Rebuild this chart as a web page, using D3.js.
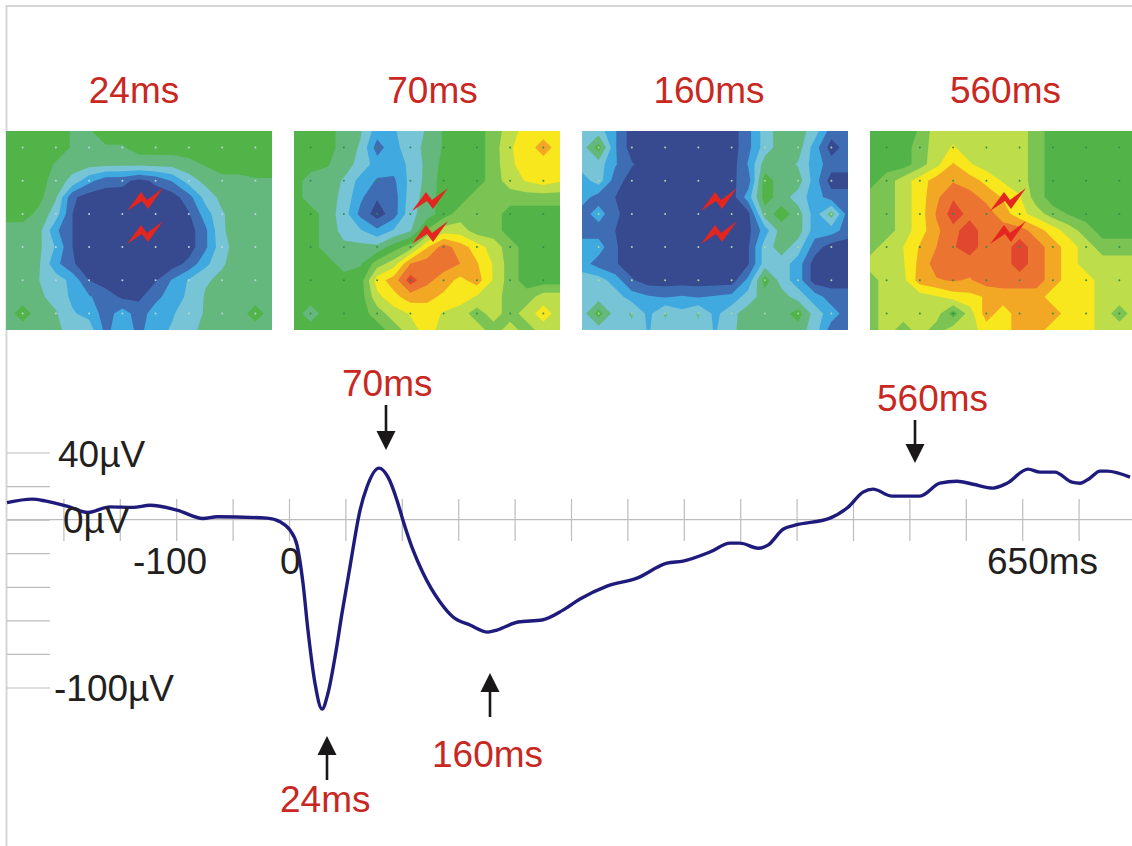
<!DOCTYPE html>
<html><head><meta charset="utf-8">
<script src="https://cdn.jsdelivr.net/npm/d3@7"></script>
<style>html,body{margin:0;padding:0;background:#fff;overflow:hidden}svg{display:block}text{font-family:"Liberation Sans",Arial,sans-serif}</style>
</head><body><svg id="c" width="1132" height="846"></svg>
<script>
// ERP trace, time in ms, amplitude in microvolts
const timeMs = [-250,-227.8,-216.3,-196.8,-178.2,-158.7,-138.3,-123.2,-99.3,-76.2,-63.8,-19.5,-8,0.9,7.1,12.4,16.8,23,29.3,34.6,40.8,47,54,63,69,79.8,87.8,95.7,101,110,118.8,133.9,145.4,160.5,176.4,184.4,203,224.3,242.9,258,281.9,308.5,335.1,349.3,373.2,391,399.8,415.8,424.6,438,448.6,479.6,495.6,508.9,517.7,534.6,559.4,577.1,592.2,606.4,624.1,636.5,655.1,665.8,679,694.1,701.2,710,719,725.2,745.6];
const microvolts = [10.1,12.2,11.2,8,4.3,7.6,7.3,8.6,5.7,0.7,1.7,0.9,-1.3,-6.3,-15.2,-37.8,-65.8,-97.3,-112.8,-103.3,-81.8,-55.7,-28.3,5.7,19.3,30.7,25.3,11.6,-0.3,-18.2,-31.8,-49.1,-58,-62.8,-67,-65.8,-61,-59.8,-53.9,-47.3,-39.6,-34.8,-25.9,-24.7,-19.3,-14,-14,-17,-15.2,-5.7,-3.3,0.9,7.4,16.4,18.2,14,14,21.7,22.9,21.1,18.8,21.7,30.1,28.3,28.3,22.3,21.7,24.7,28.9,28.9,25.3];
const xTickValues = [-200,-150,-100,-50,0,50,100,150,200,250,300,350,400,450,500,550,600,650,700];
const yTickValues = [40,20,0,-20,-40,-60,-80,-100];
const mapTitles = ["24ms","70ms","160ms","560ms"];
const levelColors = ["#37498f","#3f6db3","#3fa9e0","#76c4d6","#64b87e","#52b448","#7bc353","#bedd4a","#f8e71c","#f3a825","#ec7431","#e0472e"];
// Potential level at each grid node of the four scalp maps (17 x 13)
const map24 = [
5,5,5,5,4.4,4.4,5,5,5,5,5,5,5,5,5,5,5,
5,5,5,5,4.4,4.4,4.4,4.4,5,5,5,5,5,5,5,5,5,
5,5,5,4.4,3.9,3.9,3.8,3.8,3.8,3.9,3.9,4.2,4.6,5,5,5,5,
5,5,5,4,3.2,1.8,0.9,0.8,0.2,0.7,1.6,3,3.8,4.2,4.2,4.4,4.4,
5,5,4.8,3.6,0.7,0,0,0,0,0,0,1.1,2.9,3.8,4,4,4,
5,5,4.2,3,0.5,0,0,0,0,0,0,0.4,2,3.4,4,4,4,
4,4,3.8,1.7,0.5,0,0,0,0,0,0,0,1.3,3.4,3.9,4,4,
4,4,3.7,2.4,0.5,0,0,0,0,0,0,0,1.3,3.2,3.9,4,4,
4,4,3.6,1.8,0.6,0,0,0,0,0,0,0.8,2.2,3.4,3.9,4,4,
4.2,4,3.5,3,2.2,0.5,0,0,0,0.4,1.6,2.6,3.4,3.7,4,4,4,
4,4,3.7,3.1,2.3,1.6,1,0.3,0.3,1.2,2,2.7,3.6,4,4,4,4,
4,5,4,3.6,2.6,2.2,1,2,1,2,2.4,3,3.6,4,4,5,4,
4,4,4,3.8,3,3,1.2,2.2,1.2,2.2,2.6,3.2,3.8,4,4,4,4];
const map70 = [
5,5,5,4,3.6,2,2.4,3,3.6,4.6,5,5,6,7,8,8,8,
5,5,5,4,3.4,1,2.2,3,3.8,4.6,5,5,6,7.4,8,9,8,
5,5,4.6,3.9,3.2,2,2,2.7,3.8,4.8,5,5,6,7.3,8,8,8,
5,4,4,3.4,2.1,1.4,1.3,2.8,3.8,5,5,5,6,7,7.6,8,7.6,
5,4,4,3.2,1.7,0.6,1,3,3.9,5,5,6,6,6,6,6,6,
5,5,4,3,1.2,0,1,3.2,4,5,6,6,6,5,5,5,5,
5,5,4,3.2,2.6,1.7,2.6,3.4,5.6,7,7,6,6,5,5,5,5,
5,5,4,3.7,3.8,3.8,5,6,8.4,10,9,8,7,6,5,5,5,
5,5,5,4,4.4,6,7,9.5,10,10,9.5,8.6,7.4,6,5,5,5,
5,5,5,5,5,8,9,11,9.8,9,8.2,9,7.4,6,5,5,5,
5,5,5,5,5,7.2,8.2,9,8.8,8.3,8,7.4,7,6,6,7,7,
5,4,5,5,5,6,7,7.6,8,7.4,7,6,7,6,7,8,7,
5,5,5,5,5,5,6,7,8,7,7,7,6,7,6,7,7];
const map160 = [
3,3,1.6,0,0,0,0,0,0,0,1.2,3,4,4,3,1,1,
3,5,1.6,0,0,0,0,0,0,0,1.2,3,4,4,2,0,1,
3,3,1.6,0.6,0,0,0,0,0,0,1.6,4,4,3.4,2,1,1,
2,3,1,0,0,0,0,0,0,0.3,1,5,4,4,2,0,0,
2,1,0.5,0,0,0,0,0,0,0,2,5,4,3,2,1,1,
1,2,0.7,0,0,0,0,0,0,0,0.2,4,5,4,2,4,1,
1,1,0.5,0,0,0,0,0,0,0,0.2,2,4,4,2,2,1,
2,2,0.6,0,0,0,0,0,0,0,0.4,3,4,3,1,0,0,
2,1,0.6,0,0,0,0,0,0,0,0.4,3,3,2,0,0,0,
3,3,2,0.6,0,0,0,0,0,0,1.8,5,3,2,0,0,0,
3,3,3,2,1.6,1.4,1.6,1.4,1.6,1.8,3,4,4,3,2,1,1,
3,5,3,3.6,2.2,3.6,2.8,3.6,2.2,3.2,4,4,4,5,3,2,1,
3,3,3,3.3,2.4,3.3,3.3,3.3,2.4,3.3,4,4,4,4,3,1,1];
const map560 = [
5,5,5,5.6,7.1,7.1,7,7,7,7,6,5,5,5,5,5,5,
5,5,5,6,7,7.6,7,7,7,7,6,5,5,5,5,5,5,
5,5,5,6,7.2,8.6,7.6,7,7,7,6,5,5,5,5,5,5,
5,6,7,8,9,9.4,9,8.2,7.4,7,6,5,5,5,5,5,5,
6,6,7,8,9.3,10.4,9.9,9.2,8.4,7.6,6,5,5,5,5,5,5,
6,6,7,8,9.6,11,10.2,10,9,7.9,7,6,5.4,5,5,5,5,
6,6,7,8,9.3,10.2,11,10,10,10,9,8,7,6,5,5,5,
6,7,7.5,8.6,9.5,10.4,11,10,10,11,10,9,8,7,6,6,6,
7,7,7.4,8.8,10,10,10,10,10,11,10,9,8,7,7,7,7,
6,7,7.2,9,9.4,9.6,9.4,10,10,10,10,9,8,8,7,7,7,
6,7,7,7,7.4,8,8.2,8.6,9,9,9,8,8,8,7,7,7,
6,7,7,7,7,5,7,9,8,9,9,9,8,8,7,6,7,
6,7,6,7,6,7,7,8,8,9,9,8,8,8,7,7,7];
const maps = [map24,map70,map160,map560];
const dotColors = ["#b9d6da","#2f8f4a","#a8dca0","#2f8f4a"];

const INK="#231f20", RED="#c8281f", GRID="#bdbdbd";
const svg=d3.select("#c");
const x=d3.scaleLinear().domain([-250,750]).range([7,1135]);
const y=d3.scaleLinear().domain([40,-100]).range([452.5,687.5]);

// frame
svg.append("path").attr("d","M6.5,846V6H1132").attr("fill","none").attr("stroke","#d6d6d6").attr("stroke-width",2);

// scalp maps
const mapW=266,mapH=199,mapTop=131,mapLefts=[6,294,582,870];
const boltOffsets=[121,118,119,120];
const titleCenters=[134,432.5,709,1005.5];
const defs=svg.append("defs");
maps.forEach((vals,k)=>{
  const gx=d3.scaleLinear().domain([0.5,16.5]).range([0,mapW]);
  const gy=d3.scaleLinear().domain([0.5,12.5]).range([0,mapH]);
  const g=svg.append("g").attr("transform",`translate(${mapLefts[k]},${mapTop})`);
  defs.append("clipPath").attr("id","m"+k).append("rect").attr("width",mapW).attr("height",mapH);
  const inner=g.append("g").attr("clip-path",`url(#m${k})`);
  inner.append("rect").attr("width",mapW).attr("height",mapH).attr("fill",levelColors[0]);
  const thresholds=d3.range(1,levelColors.length).map(d=>d-0.5);
  const cs=d3.contours().size([17,13]).thresholds(thresholds)(vals);
  const path=d3.geoPath(d3.geoTransform({point(a,b){this.stream.point(gx(a),gy(b));}}));
  inner.selectAll("path.l").data(cs).join("path").attr("class","l").attr("d",path)
    .attr("fill",(d,i)=>levelColors[i+1]);
  // electrodes
  const dots=[];
  for(let j=1;j<13;j+=2)for(let i=1;i<17;i+=2)dots.push([i+0.5,j+0.5]);
  inner.selectAll("circle").data(dots).join("circle").attr("cx",d=>gx(d[0])).attr("cy",d=>gy(d[1])).attr("r",1).attr("fill",dotColors[k]);
  // stimulation bolts
  [57,90].forEach(dy=>{
    g.append("path").attr("transform",`translate(${boltOffsets[k]},${dy})`)
     .attr("d","M0,23L14,4L20,12L36,0L21,21L15,13Z").attr("fill","#e3261f");
  });
  svg.append("text").attr("x",titleCenters[k]).attr("y",103).attr("text-anchor","middle")
    .attr("font-size",37).attr("fill",RED).text(mapTitles[k]);
});

// axes
svg.append("line").attr("x1",7).attr("x2",1132).attr("y1",y(0)).attr("y2",y(0)).attr("stroke",GRID).attr("stroke-width",1.2);
const yAx=svg.append("g").attr("transform","translate(7,0)")
  .call(d3.axisRight(y).tickValues(yTickValues).tickSize(43).tickFormat(""));
yAx.select(".domain").remove();
yAx.selectAll("line").attr("stroke",GRID).attr("stroke-width",1.2);
const xAx=svg.append("g").attr("transform","translate(0,499)")
  .call(d3.axisBottom(x).tickValues(xTickValues).tickSize(42).tickFormat(""));
xAx.select(".domain").remove();
xAx.selectAll("line").attr("stroke",GRID).attr("stroke-width",1.2);

// trace
const line=d3.line().x((d,i)=>x(timeMs[i])).y(d=>y(d)).curve(d3.curveMonotoneX);
svg.append("path").attr("d",line(microvolts)).attr("fill","none").attr("stroke","#1f1b7c").attr("stroke-width",3.4).attr("stroke-linejoin","round");

// axis labels
const labels=[["40µV",58,467],["0µV",63,533],["-100",133,574],["0",280,574],["-100µV",54,701],["650ms",987,574]];
svg.selectAll("text.ax").data(labels).join("text").attr("class","ax").attr("x",d=>d[1]).attr("y",d=>d[2])
  .attr("font-size",37).attr("fill",INK).text(d=>d[0]);

// peak callouts
const callouts=[["70ms",342,396,386,405,450],["560ms",877,411,915,420,463],["160ms",432,767,490,717,673],["24ms",280,812,327,780,736]];
callouts.forEach(c=>{
  svg.append("text").attr("x",c[1]).attr("y",c[2]).attr("font-size",37).attr("fill",RED).text(c[0]);
  const dir=c[5]>c[4]?1:-1;
  svg.append("line").attr("x1",c[3]).attr("x2",c[3]).attr("y1",c[4]).attr("y2",c[5]-dir*16).attr("stroke","#1a1718").attr("stroke-width",2.6);
  svg.append("path").attr("d",`M${c[3]},${c[5]}L${c[3]-9.5},${c[5]-dir*19}L${c[3]+9.5},${c[5]-dir*19}Z`).attr("fill","#1a1718");
});
</script></body></html>
